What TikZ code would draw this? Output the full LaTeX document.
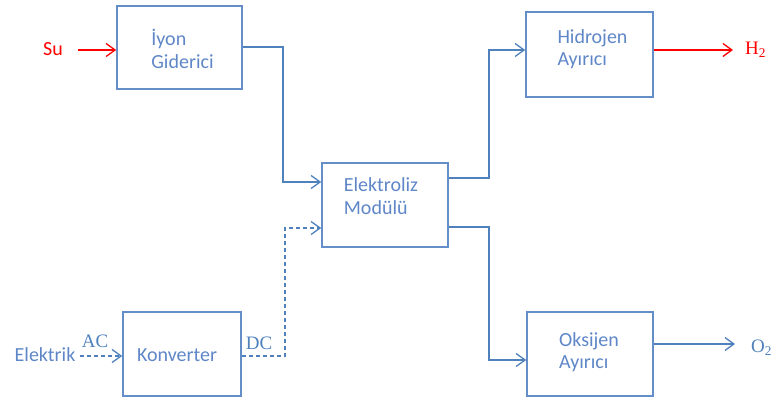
\documentclass[tikz,border=0pt]{standalone}
\usepackage{fontspec}
\setmainfont{Carlito}
\newfontfamily\serifx{Liberation Serif}
\usetikzlibrary{arrows.meta}
\definecolor{lineblue}{RGB}{79,129,189}
\definecolor{boxblue}{RGB}{100,142,200}
\definecolor{txtblue}{RGB}{95,135,200}
\definecolor{redx}{RGB}{255,0,0}
\tikzset{
  box/.style={draw=boxblue, line width=1.6pt, minimum width=#1, inner sep=0pt},
  boxtext/.style={text=txtblue, align=left, font=\fontsize{20}{22.5}\selectfont, inner sep=0pt},
  conn/.style={draw=lineblue, line width=1.3pt, -{Straight Barb[length=9pt,width=13pt,line width=1.3pt]}},
  connd/.style={conn, dashed, dash pattern=on 4pt off 3pt},
  redconn/.style={conn, draw=redx},
  lbl/.style={font=\fontsize{20}{22}\selectfont, inner sep=0pt},
  serlbl/.style={font=\serifx\fontsize{19}{22}\selectfont, inner sep=0pt}
}
\begin{document}
\begin{tikzpicture}[x=1pt,y=-1pt]
\useasboundingbox[fill=white] (0,0) rectangle (772,399);
% boxes
\node[box=125pt, minimum height=83pt] (ion) at (179.5,47.5) {};
\node[box=126pt, minimum height=84pt] (elek) at (385,205) {};
\node[box=127pt, minimum height=85pt] (hid) at (589.5,54.5) {};
\node[box=126pt, minimum height=84pt] (oks) at (590,354) {};
\node[box=118pt, minimum height=84pt] (konv) at (182,354) {};
% box texts
\node[boxtext] (iont) at (182.5,49) {İyon\\Giderici};
\node[boxtext] (elekt) at (381,196) {Elektroliz\\Modülü};
\node[boxtext] (hidt) at (592.5,49) {Hidrojen\\Ayırıcı};
\node[boxtext] (okst) at (589,352) {Oksijen\\Ayırıcı};
\node[boxtext] (konvt) at (177,355) {Konverter};
% labels
\node[lbl, text=redx] (su) at (53,49) {Su};
\node[lbl, text=txtblue] (el) at (45,355) {Elektrik};
\node[serlbl, text=lineblue] (ac) at (95,341) {AC};
\node[serlbl, text=lineblue] (dc) at (259,343) {DC};
\node[serlbl, text=redx, anchor=west] (h2) at (745,50) {H\textsubscript{2}};
\node[serlbl, text=lineblue, anchor=west] (o2) at (751,348) {O\textsubscript{2}};
% coordinates
\coordinate (suS) at (78,50);
\coordinate (elS) at (80,356);
% connectors
\draw[redconn] (suS) -- (ion.west |- suS);
\draw[conn] (ion.east |- 0,47) -- (283,47) -- (283,182) -- (elek.west |- 0,182);
\draw[conn] (elek.east |- 0,178) -- (489,178) -- (489,50) -- (hid.west |- 0,50);
\draw[conn] (elek.east |- 0,227) -- (489,227) -- (489,360) -- (oks.west |- 0,360);
\draw[redconn] (hid.east |- 0,50) -- (733,50);
\draw[conn] (oks.east |- 0,344) -- (735,344);
\draw[connd] (elS) -- (konv.west |- elS);
\draw[connd] (konv.east |- 0,356) -- (285,356) -- (285,228) -- (elek.west |- 0,228);
\end{tikzpicture}
\end{document}
